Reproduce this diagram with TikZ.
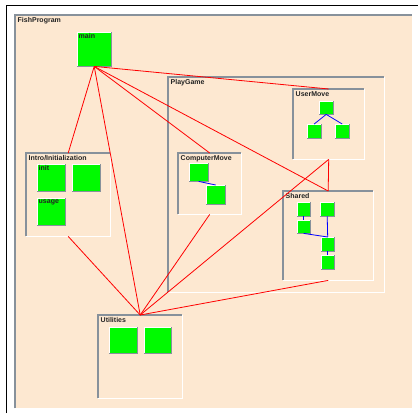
\documentclass[tikz,border=0pt]{standalone}
\usepackage{fontspec}
\setmainfont{Liberation Sans}
\definecolor{peach}{RGB}{253,232,209}
\definecolor{edgegray}{RGB}{135,145,155}
\definecolor{leaf}{RGB}{0,250,0}
\definecolor{ink}{RGB}{35,35,35}

\tikzset{
  panelbox/.style={fill=peach, draw=none, inner sep=0pt, anchor=north west},
  panelshade/.style={edgegray, line width=1.8pt},
  panellight/.style={white, line width=1.8pt},
  tag/.style={anchor=north west, inner sep=0pt, text=ink,
    font=\bfseries\fontsize{7}{8}\selectfont},
  leafbox/.style={fill=leaf, draw=none, inner sep=0pt, anchor=north west},
  leafshade/.style={edgegray, line width=1.3pt},
  leaflight/.style={white, line width=1pt},
  calls/.style={red, line width=0.8pt},
  uses/.style={blue, line width=0.8pt},
}

% sunken group panel: name, x1, y1, x2, y2, title
\newcommand\grouppanel[6]{%
  \node[panelbox, minimum width={#4-#2}, minimum height={#5-#3}] (#1) at (#2,#3) {};
  \draw[panelshade] (#1.south west) -- (#1.north west) -- (#1.north east);
  \draw[panellight] (#1.north east) -- (#1.south east) -- (#1.south west);
  \node[tag] at ([shift={(2.5,2.5)}]#1.north west) {#6};}

% raised module box: name, x1, y1, x2, y2, title
\newcommand\modulebox[6]{%
  \node[leafbox, minimum width={#4-#2}, minimum height={#5-#3}] (#1) at (#2,#3) {};
  \draw[leaflight] (#1.south west) -- (#1.north west) -- (#1.north east);
  \draw[leafshade] (#1.north east) -- (#1.south east) -- (#1.south west);
  \node[tag] at ([shift={(1.5,1.5)}]#1.north west) {#6};}

\begin{document}
\begin{tikzpicture}[x=1pt,y=-1pt]
\useasboundingbox[fill=white] (0,0) rectangle (418,413);
\draw[black, line width=1.2pt] (6.5,413) -- (6.5,5.5) -- (418,5.5);

% group panels
\grouppanel{fish}{15}{15}{412}{408}{FishProgram}
\grouppanel{play}{168}{77}{384}{292}{PlayGame}
\grouppanel{intro}{26}{153}{110}{236}{Intro/Initialization}
\grouppanel{computer}{178}{153}{241}{214}{ComputerMove}
\grouppanel{user}{293}{89}{364}{159}{UserMove}
\grouppanel{shared}{283}{191}{373}{280}{Shared}
\grouppanel{util}{98}{315}{182}{398}{Utilities}

% call edges between groups
\modulebox{main}{77}{32}{111}{66}{main}
\draw[calls] (main.south) -- (intro.north);
\draw[calls] (main.south) -- (util.north);
\draw[calls] (main.south) -- (computer.north);
\draw[calls] (main.south) -- (shared.north);
\draw[calls] (main.south) -- (user.north);
\draw[calls] (user.south) -- (shared.north);
\draw[calls] (user.south) -- (util.north);
\draw[calls] (computer.south) -- (util.north);
\draw[calls] (shared.south) -- (util.north);
\draw[calls] (intro.south) -- (util.north);

% Intro/Initialization modules
\modulebox{init}{37}{164}{65}{191}{init}
\modulebox{introb}{72}{164}{100}{191}{}
\modulebox{usage}{37}{198}{65}{225}{usage}

% ComputerMove modules
\modulebox{cma}{189}{163}{208}{181}{}
\modulebox{cmb}{206}{185}{225}{204}{}
\draw[uses] (cma.south) -- (cmb.north);

% UserMove modules
\modulebox{uma}{319}{101}{333}{114}{}
\modulebox{umb}{307}{124}{321}{138}{}
\modulebox{umc}{335}{124}{349}{138}{}
\draw[uses] (uma.south) -- (umb.north);
\draw[uses] (uma.south) -- (umc.north);

% Shared modules
\modulebox{sha}{297}{202}{310}{216}{}
\modulebox{shb}{320}{202}{334}{216}{}
\modulebox{shc}{297}{220}{310}{233}{}
\modulebox{shd}{321}{237}{334}{251}{}
\modulebox{she}{321}{255}{334}{269}{}
\draw[uses] (sha.south) -- (shc.north);
\draw[uses] (shb.south) -- (shd.north);
\draw[uses] (shc.south) -- (shd.north);
\draw[uses] (shd.south) -- (she.north);

% Utilities modules
\modulebox{uta}{109}{327}{137}{353}{}
\modulebox{utb}{144}{327}{171}{353}{}
\end{tikzpicture}
\end{document}
